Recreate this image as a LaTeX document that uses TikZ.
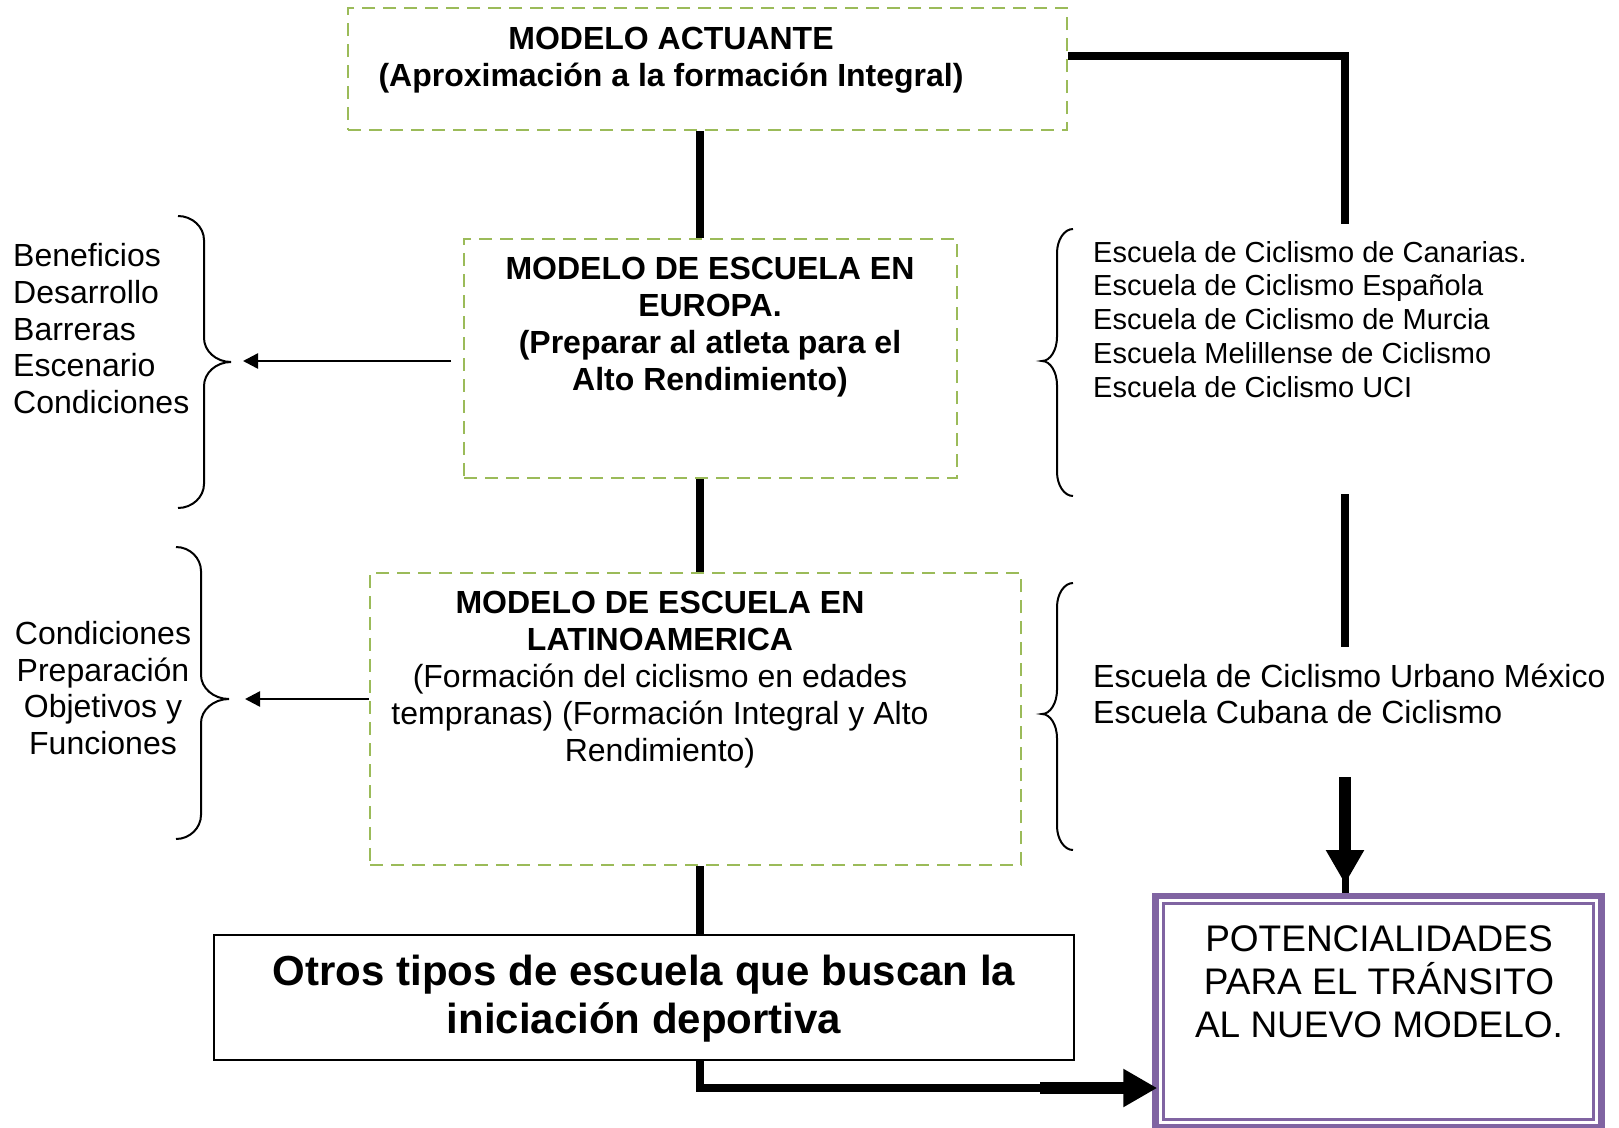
\documentclass[tikz,border=0pt]{standalone}
\usepackage{fontspec}
\setmainfont{Liberation Sans}
\usetikzlibrary{arrows.meta}
\definecolor{boxgreen}{HTML}{9BBB59}
\definecolor{boxpurple}{HTML}{8064A2}
% brace: #1 end x, #2 spine x, #3 tip x, #4 top y, #5 tip y, #6 bottom y
\newcommand{\mybrace}[6]{%
  \draw[bracestyle] (#1,#4) .. controls ({#1+0.55*(#2-#1)},#4) and (#2,{#4+11}) .. (#2,{#4+24})
    -- (#2,{#5-24}) .. controls (#2,{#5-11}) and ({#3-0.55*(#3-#2)},#5) .. (#3,#5)
    .. controls ({#3-0.55*(#3-#2)},#5) and (#2,{#5+11}) .. (#2,{#5+24})
    -- (#2,{#6-24}) .. controls (#2,{#6-11}) and ({#1+0.55*(#2-#1)},#6) .. (#1,#6);}
\begin{document}
\begin{tikzpicture}[x=1pt,y=-1pt,
  greenbox/.style={draw=boxgreen,line width=2.8pt,dash pattern=on 13pt off 8pt,inner sep=0pt},
  blackbox/.style={draw=black,line width=2pt,inner sep=0pt},
  maintxt/.style={align=center,inner sep=0pt,font=\fontsize{32pt}{37pt}\selectfont},
  maintxtb/.style={align=center,inner sep=0pt,font=\fontsize{32pt}{37pt}\selectfont\bfseries},
  otrostxt/.style={align=center,inner sep=0pt,font=\fontsize{42pt}{48pt}\selectfont\bfseries},
  pottxt/.style={align=center,inner sep=0pt,font=\fontsize{37pt}{43pt}\selectfont},
  sidetxt/.style={align=left,inner sep=0pt,anchor=west,font=\fontsize{29pt}{33.75pt}\selectfont},
  sidetxtb/.style={align=left,inner sep=0pt,anchor=west,font=\fontsize{32pt}{36pt}\selectfont},
  lefttxt/.style={inner sep=0pt,font=\fontsize{32pt}{36.75pt}\selectfont},
  conn/.style={line width=8pt},
  bigarrow/.style={line width=12pt,-{Triangle[length=34pt,width=36pt]}},
  thinarrow/.style={line width=2.5pt,-{Triangle[length=15pt,width=15pt]}},
  bracestyle/.style={line width=2pt}
]
\fill[white] (0,0) rectangle (1619,1127);
\useasboundingbox (0,0) rectangle (1619,1127);

% boxes
\node[greenbox,minimum width=719pt,minimum height=122pt] (top) at (707.5,69) {};
\node[maintxtb] (topT) at (671,60) {MODELO ACTUANTE\\(Aproximación a la formación Integral)};

\node[greenbox,minimum width=493pt,minimum height=239pt] (eu) at (710.5,358.5) {};
\node[maintxtb] (euT) at (710,327) {MODELO DE ESCUELA EN\\EUROPA.\\(Preparar al atleta para el\\Alto Rendimiento)};

\node[greenbox,minimum width=651pt,minimum height=292pt] (la) at (695.5,719) {};
\node[maintxt] (laT) at (660,679.5) {\textbf{MODELO DE ESCUELA EN}\\\textbf{LATINOAMERICA}\\(Formación del ciclismo en edades\\tempranas) (Formación Integral y Alto\\Rendimiento)};

\node[blackbox,minimum width=860pt,minimum height=125pt] (ot) at (644,997.5) {};
\node[otrostxt] (otT) at (644,999) {Otros tipos de escuela que buscan la\\iniciación deportiva};

\node[draw=boxpurple,line width=6.5pt,minimum width=446pt,minimum height=231pt,inner sep=0pt] (pot) at (1378.5,1011.5) {};
\node[draw=boxpurple,line width=2.5pt,minimum width=430pt,minimum height=216pt,inner sep=0pt] (potin) at (pot.center) {};
\node[pottxt] (potT) at (1379,982) {POTENCIALIDADES\\PARA EL TRÁNSITO\\AL NUEVO MODELO.};

% side texts
\node[lefttxt,align=left,anchor=west] (l1) at (13,328.6) {Beneficios\\Desarrollo\\Barreras\\Escenario\\Condiciones};
\node[lefttxt,align=center] (l2) at (103,688) {Condiciones\\Preparación\\Objetivos y\\Funciones};
\node[sidetxt] (r1) at (1093,319.3) {Escuela de Ciclismo de Canarias.\\Escuela de Ciclismo Española\\Escuela de Ciclismo de Murcia\\Escuela Melillense de Ciclismo\\Escuela de Ciclismo UCI};
\node[sidetxtb] (r2) at (1093,693.5) {Escuela de Ciclismo Urbano México\\Escuela Cubana de Ciclismo};

% braces
\mybrace{178}{204}{231}{216}{362}{508}
\mybrace{176}{201}{229}{547}{699}{839}
\mybrace{1073}{1057}{1042}{229}{361}{496}
\mybrace{1073}{1057}{1042}{583}{714}{850}

% spine connectors
\coordinate (sp) at (700,0);
\draw[conn] (top.south -| sp) -- (eu.north -| sp);
\draw[conn] (eu.south -| sp) -- (la.north -| sp);
\draw[conn] (la.south -| sp) -- (ot.north -| sp);
\coordinate (bA) at (1045,1088);
\coordinate (bB) at (1040,1088);
\draw[conn] (ot.south -| sp) |- (bA);
\draw[bigarrow] (bB) -- ([xshift=5pt]pot.west |- bB);

% right connector
\coordinate (ry) at (0,56);
\coordinate (rA) at (1345,224);
\coordinate (rB) at (1345,494);
\coordinate (rC) at (1345,647);
\coordinate (rD) at (1345,777);
\coordinate (rE) at (1345,884);
\coordinate (rF) at (1345,875);
\draw[conn] (top.east |- ry) -| (rA);
\draw[conn] (rB) -- (rC);
\draw[line width=7pt] (rF) -- (pot.north -| rF);
\draw[bigarrow] (rD) -- (rE);

% left arrows
\coordinate (la1s) at (451,361);
\coordinate (la1t) at (243,361);
\draw[thinarrow] (la1s) -- (la1t);
\coordinate (la2t) at (245,699);
\draw[thinarrow] (la.west |- la2t) -- (la2t);
\end{tikzpicture}
\end{document}
